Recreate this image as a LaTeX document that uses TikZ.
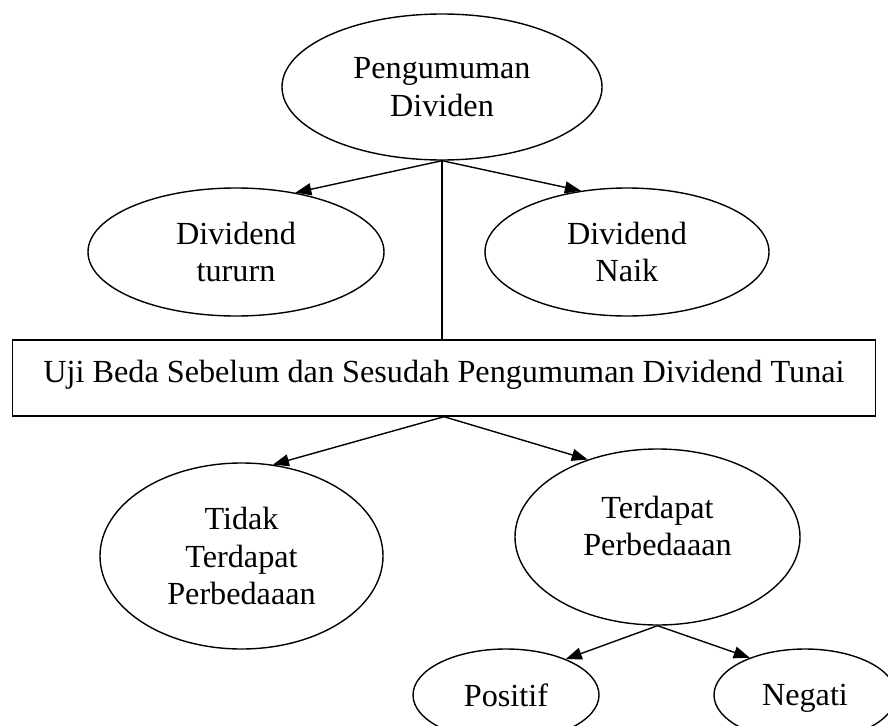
\documentclass[tikz,border=0pt]{standalone}
\usepackage{fontspec}
\setmainfont{Liberation Serif}
\usetikzlibrary{arrows.meta,shapes.geometric}

\begin{document}
\begin{tikzpicture}[
    x=1pt, y=-1pt,
    every node/.style={font=\fontsize{32.2}{37.5}\selectfont},
    oval/.style={ellipse, draw, line width=1.4pt, align=center, inner sep=0pt},
    box/.style={rectangle, draw, line width=1.4pt, align=center, inner sep=0pt},
    arrow/.style={-{Triangle[length=16pt,width=12pt]}, line width=1.4pt},
    plain/.style={line width=1.4pt}
]
\useasboundingbox (0,0) rectangle (888,725);
\clip (0,0) rectangle (888,725);

\node[oval, minimum width=320pt, minimum height=146pt] (umum) at (442,87) {Pengumuman\\Dividen};
\node[oval, minimum width=296pt, minimum height=128pt] (turun) at (236,252) {Dividend\\tururn};
\node[oval, minimum width=284pt, minimum height=128pt] (naik) at (627,252) {Dividend\\Naik};
\node[box, minimum width=863pt, minimum height=76pt, text depth=14pt] (uji) at (444,378) {Uji Beda Sebelum dan Sesudah Pengumuman Dividend Tunai};
\node[oval, minimum width=283pt, minimum height=186pt] (tidak) at (241.5,556) {Tidak\\Terdapat\\Perbedaaan};
\node[oval, minimum width=285pt, minimum height=176pt, text depth=22pt] (beda) at (657.5,537) {Terdapat\\Perbedaaan};
\node[oval, minimum width=186pt, minimum height=92pt] (pos) at (506,695) {Positif};
\node[oval, minimum width=182pt, minimum height=92pt, text depth=0pt] (neg) at (805,695) {Negati};

\draw[arrow] (umum.south)--(turun.45);
\draw[arrow] (umum.south)--(naik.127);
\draw[plain] (umum.south)--(umum.south |- uji.north);
\draw[arrow] (uji.south)--(tidak.71);
\draw[arrow] (uji.south)--(beda.132);
\draw[arrow] (beda.south)--(pos.31);
\draw[arrow] (beda.south)--(neg.146);
\end{tikzpicture}
\end{document}
